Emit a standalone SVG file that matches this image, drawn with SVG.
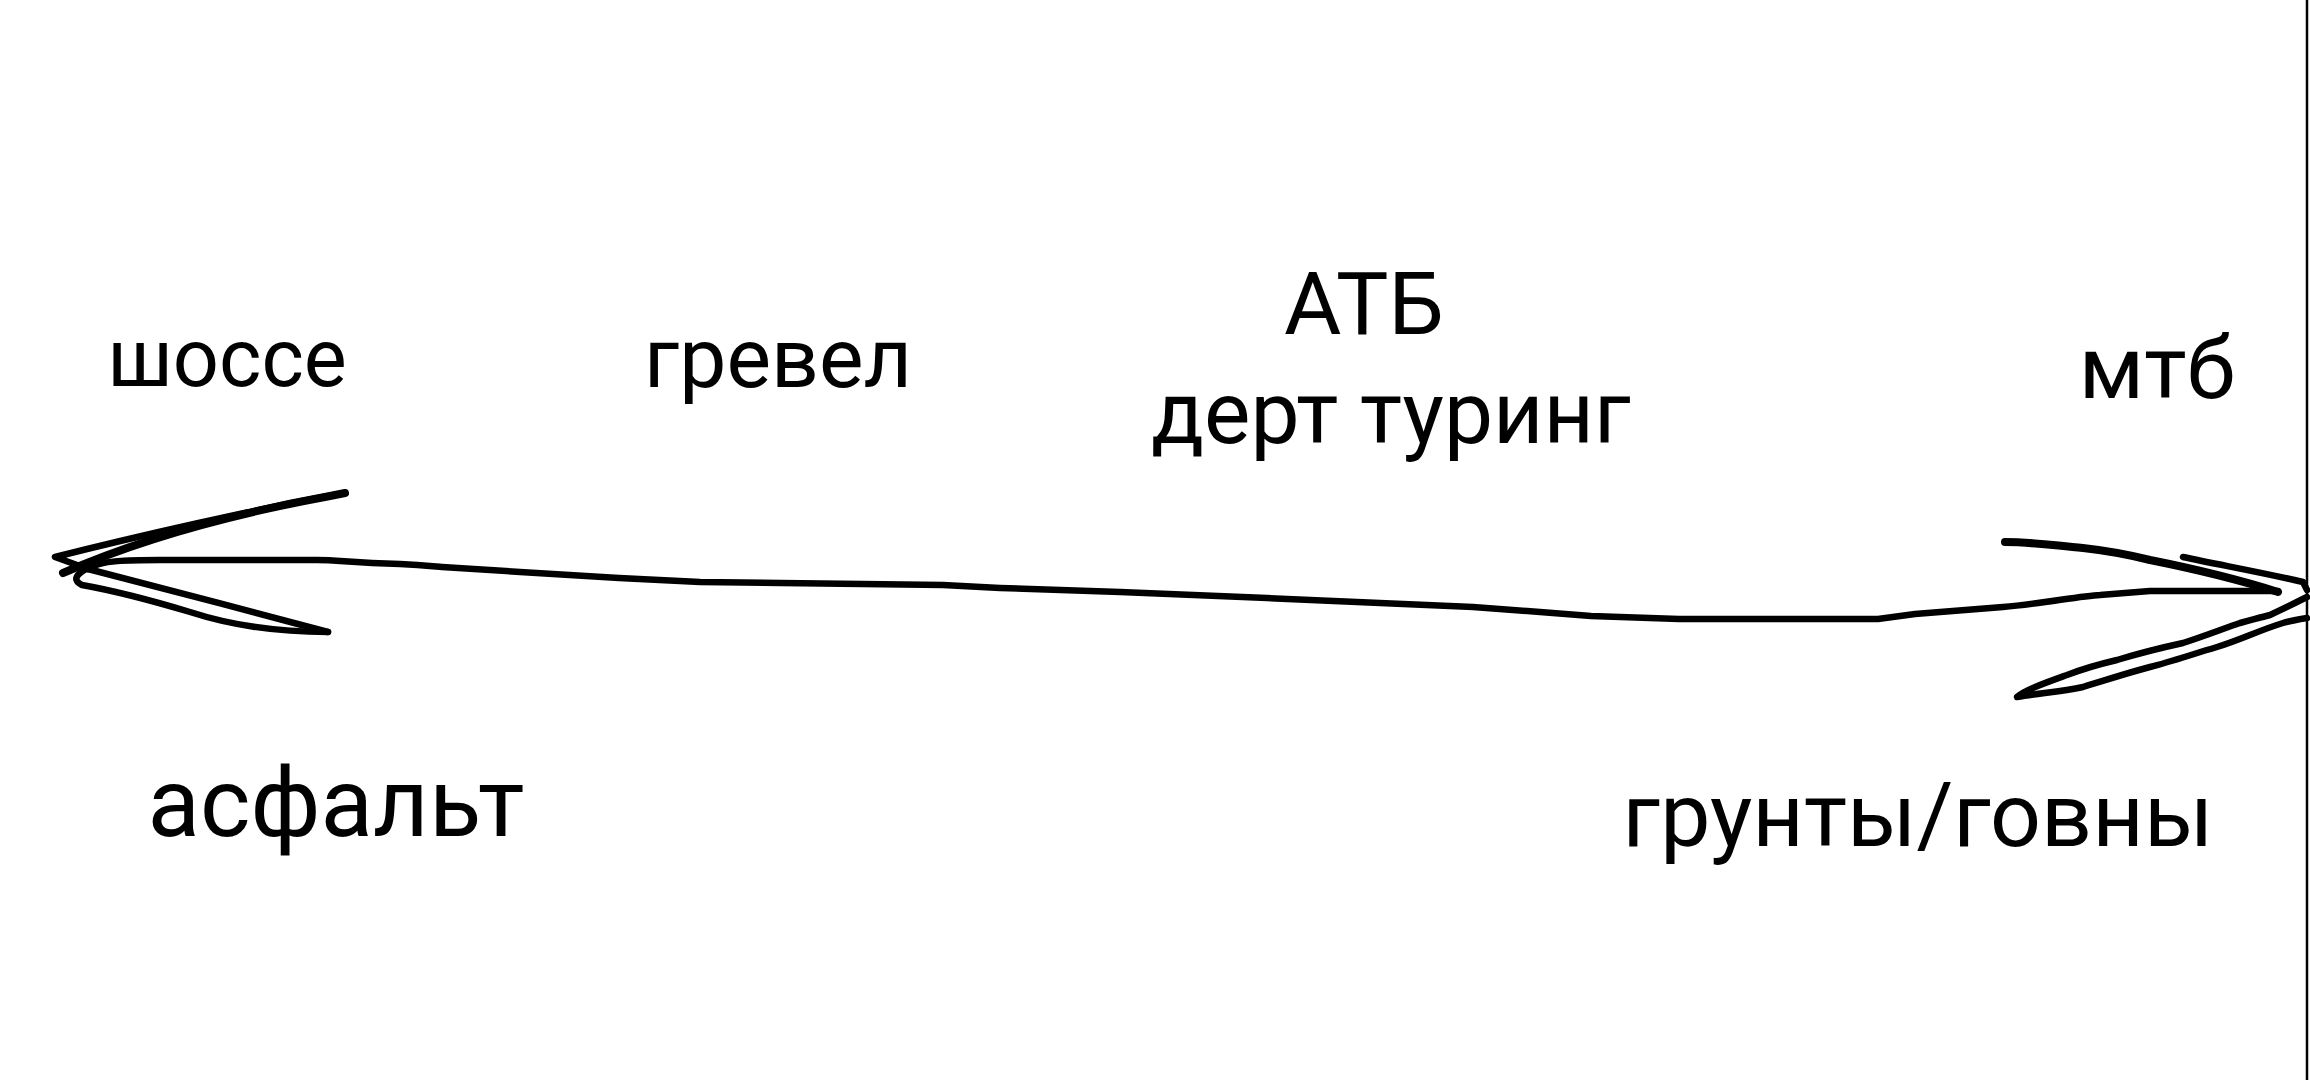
<svg xmlns="http://www.w3.org/2000/svg" width="2310" height="1080" viewBox="0 0 2310 1080">
<style>
.t{font-family:Roboto,"Noto Sans","Liberation Sans",sans-serif;fill:#000;text-anchor:middle}
.s{fill:none;stroke:#000;stroke-width:6.5;stroke-linecap:round;stroke-linejoin:round}
.k{stroke-width:8}
</style>
<rect width="2310" height="1080" fill="#fff"/>
<line x1="2307" y1="0" x2="2307" y2="1080" stroke="#000" stroke-width="2.5"/>
<g id="n-shosse"><text class="t" x="227" y="386" font-size="81">шоссе</text></g>
<g id="n-grevel"><text class="t" x="778" y="387" font-size="84">гревел</text></g>
<g id="n-atb"><text class="t" x="1364" y="334" font-size="88">АТБ</text>
<text class="t" x="1391" y="443" font-size="87.5">дерт туринг</text></g>
<g id="n-mtb"><text class="t" x="2157" y="398" font-size="88">мтб</text></g>
<g id="n-asphalt"><text class="t" x="336" y="836" font-size="96.5">асфальт</text></g>
<g id="n-grunt"><text class="t" x="1918" y="846" font-size="89.5">грунты/говны</text></g>
<g id="connectors">
<path class="s" d="M88,569 C100,560 130,560 160,560 L317,560 C340,560 350,563 400,564 C420,565 430,566 442,567 L520,572 L619,578 L700,582 L781,583 L943,585 L1000,588 L1120,592 L1267,598 L1380,603 L1473,607 L1540,612 L1591,616 L1679,619 L1878,619 L1915,614 L2003,607 C2040,604 2080,596 2100,595 L2150,591 L2278,591"/>
<path class="s" d="M345,493 C260,508 130,538 55,557 L88,569 C140,582 260,614 328,632"/>
<path class="s k" d="M63,573 C120,548 200,520 330,496 C335,495 340,494 345,493"/>
<path class="s" d="M328,632 C280,632 230,625 190,612 C150,600 110,590 82,585 C72,580 76,574 88,568"/>
<path class="s k" d="M2005,542 C2030,542 2050,545 2083,548 C2110,551 2130,555 2150,560 C2190,568 2240,580 2278,592"/>
<path class="s" d="M2183,557 C2220,565 2260,572 2303,582 L2307,590"/>
<path class="s" d="M2307,618 C2295,620 2290,621 2283,623 C2260,630 2240,640 2217,647 C2190,655 2170,662 2150,667 C2120,675 2100,682 2083,687 C2060,692 2040,693 2017,697 C2025,690 2045,683 2067,675 C2085,668 2100,664 2117,660 C2140,653 2160,648 2183,643 C2205,636 2225,628 2240,623 C2255,619 2262,617 2270,615 C2285,608 2295,603 2307,597"/>
</g>
</svg>
